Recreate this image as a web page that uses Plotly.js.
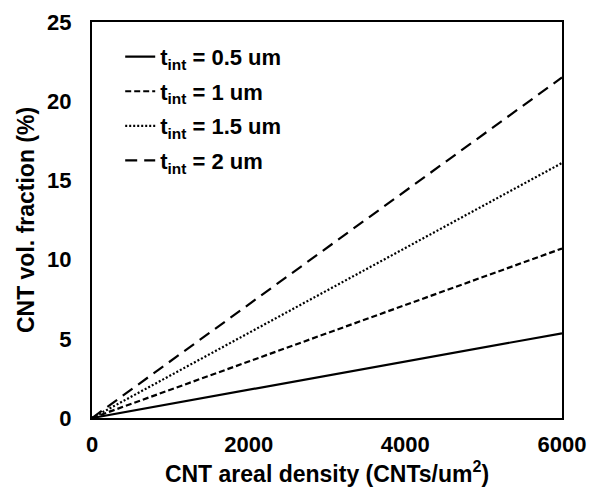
<!DOCTYPE html>
<html>
<head>
<meta charset="utf-8">
<script src="https://cdn.plot.ly/plotly-3.0.1.min.js"></script>
<style>html,body{margin:0;padding:0;background:#fff;}#chart{width:592px;height:496px;}</style>
</head>
<body>
<div id="chart"></div>
<script>
// Data
const densities = [0, 6000];
const seriesNames = [
  "t<sub>int</sub> = 0.5 um",
  "t<sub>int</sub> = 1 um",
  "t<sub>int</sub> = 1.5 um",
  "t<sub>int</sub> = 2 um"
];
const volFrac_05 = [0, 5.35];
const volFrac_1 = [0, 10.7];
const volFrac_15 = [0, 16.1];
const volFrac_2 = [0, 21.5];
const xTicks = [0, 2000, 4000, 6000];
const yTicks = [0, 5, 10, 15, 20, 25];

const seriesValues = [volFrac_05, volFrac_1, volFrac_15, volFrac_2];
const dashes = ["solid", "6px,3px", "2px,2px", "12px,7px"];

const traces = seriesValues.map((ys, i) => ({
  x: densities,
  y: ys,
  name: seriesNames[i],
  legendgroup: "g" + i,
  type: "scatter",
  mode: "lines",
  line: {color: "#000", width: 2.2, dash: dashes[i]}
}));

const font = {family: "Liberation Sans, Arial, sans-serif", color: "#000"};
const bold = (s) => Object.assign({}, font, {size: s, weight: "bold"});

const layout = {
  width: 592, height: 496,
  margin: {l: 92, r: 30, t: 22, b: 78},
  paper_bgcolor: "#fff", plot_bgcolor: "#fff",
  showlegend: true,
  legend: {
    x: 0.06, y: 0.965, xanchor: "left", yanchor: "top",
    bgcolor: "rgba(0,0,0,0)",
    font: bold(22),
    tracegroupgap: 3,
    itemwidth: 30
  },
  xaxis: {
    range: [0, 6000], tickvals: xTicks, ticktext: xTicks.map(String),
    showgrid: false, zeroline: false, showline: true, mirror: true,
    linecolor: "#000", linewidth: 2, ticks: "",
    ticklabelstandoff: 6,
    tickfont: bold(22),
    title: {text: "CNT areal density (CNTs/um<sup>2</sup>)", standoff: 4,
      font: bold(23)}
  },
  yaxis: {
    range: [0, 25], tickvals: yTicks, ticktext: yTicks.map(String),
    showgrid: false, zeroline: false, showline: true, mirror: true,
    linecolor: "#000", linewidth: 2, ticks: "",
    ticklabelstandoff: 14,
    tickfont: bold(22),
    title: {text: "CNT vol. fraction (%)", standoff: 6,
      font: bold(23)}
  }
};

Plotly.newPlot("chart", traces, layout, {displayModeBar: false, staticPlot: true});
</script>
</body>
</html>
